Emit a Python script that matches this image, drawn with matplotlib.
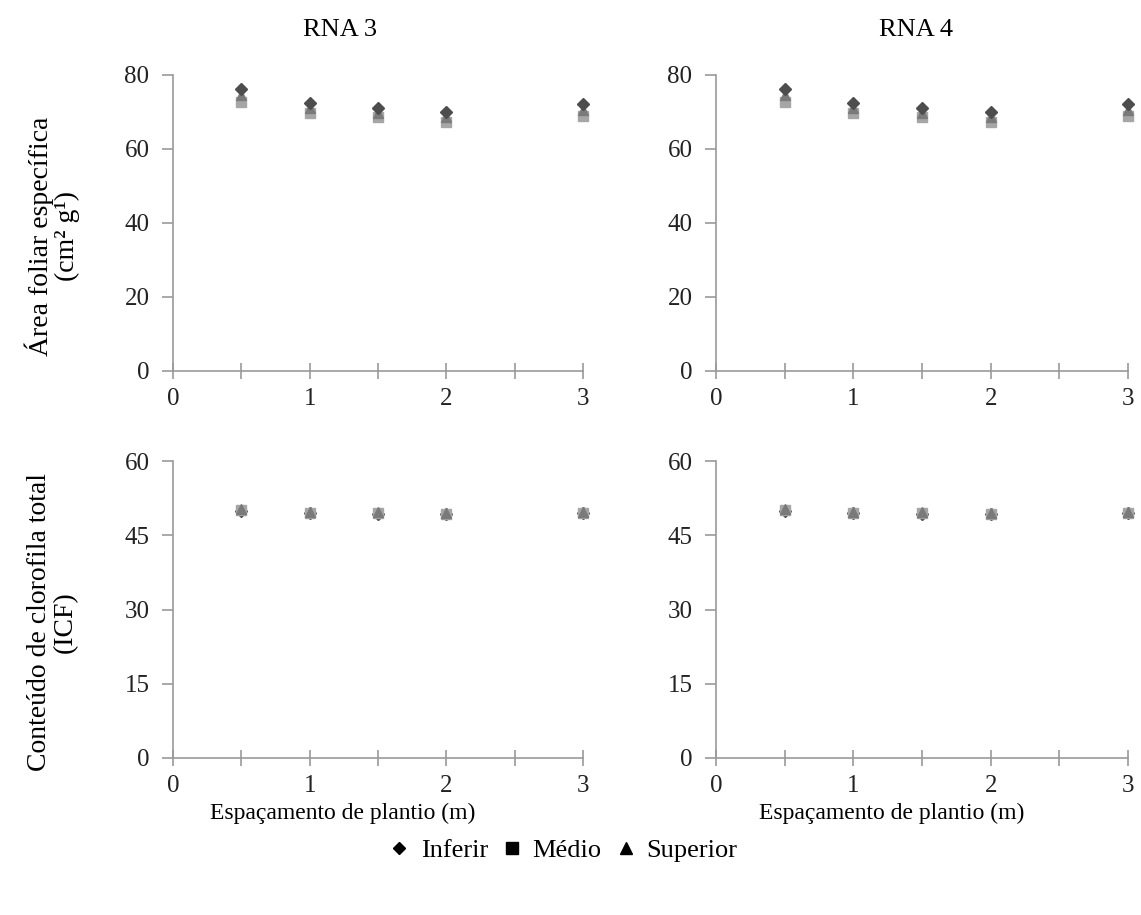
import matplotlib
matplotlib.use("Agg")
import matplotlib.pyplot as plt
from matplotlib.lines import Line2D
from matplotlib.ticker import MultipleLocator

plt.rcParams['font.family'] = ['Liberation Serif', 'DejaVu Serif']

espacamento = [0.5, 1.0, 1.5, 2.0, 3.0]

# Área foliar específica (cm2 g-1)
afe_inferir = [76.2, 72.4, 71.1, 70.0, 72.2]
afe_medio = [72.7, 69.7, 68.6, 67.3, 68.9]
afe_superior = [74.6, 71.0, 69.7, 68.6, 70.5]

# Conteúdo de clorofila total (ICF)
icf_inferir = [50.0, 49.4, 49.3, 49.2, 49.4]
icf_medio = [50.1, 49.5, 49.4, 49.3, 49.5]
icf_superior = [50.3, 49.7, 49.6, 49.5, 49.7]

titles = ["RNA 3", "RNA 4"]
series_names = ["Inferir", "Médio", "Superior"]
colors = {"Inferir": "#4d4d4d", "Médio": "#a6a6a6", "Superior": "#7a7a7a"}
markers = {"Inferir": "D", "Médio": "s", "Superior": "^"}
msize = {"Inferir": 6, "Médio": 7, "Superior": 7.5}

W, H = 1141, 915
fig = plt.figure(figsize=(W / 100, H / 100), dpi=100)

def fx(px):
    return px / W

def fy(py):
    return 1 - py / H

lefts = [173, 716]
rights = [583, 1128]
tops = [(75, 371), (461, 758)]

spine_col = "#9a9a9a"
tick_fs = 18

def style(ax, ymax, ystep):
    ax.set_xlim(0, 3)
    ax.set_ylim(0, ymax)
    for s in ["top", "right"]:
        ax.spines[s].set_visible(False)
    for s in ["left", "bottom"]:
        ax.spines[s].set_color(spine_col)
        ax.spines[s].set_linewidth(1.2)
    ax.xaxis.set_major_locator(MultipleLocator(1))
    ax.xaxis.set_minor_locator(MultipleLocator(0.5))
    ax.yaxis.set_major_locator(MultipleLocator(ystep))
    ax.tick_params(axis="x", which="both", direction="inout", length=12,
                   width=1.2, color=spine_col, labelsize=tick_fs, labelcolor="#222222", pad=6)
    ax.tick_params(axis="y", which="major", direction="out", length=8,
                   width=1.2, color=spine_col, labelsize=tick_fs, labelcolor="#222222", pad=9)

data_top = {"Inferir": afe_inferir, "Médio": afe_medio, "Superior": afe_superior}
data_bot = {"Inferir": icf_inferir, "Médio": icf_medio, "Superior": icf_superior}

for col in range(2):
    t, b = tops[0]
    ax = fig.add_axes([fx(lefts[col]), fy(b), fx(rights[col] - lefts[col]), (b - t) / H])
    for name in ["Médio", "Superior", "Inferir"]:
        ax.plot(espacamento, data_top[name], linestyle="none", marker=markers[name],
                color=colors[name], markersize=msize[name], clip_on=False)
    style(ax, 80, 20)
    t, b = tops[1]
    ax2 = fig.add_axes([fx(lefts[col]), fy(b), fx(rights[col] - lefts[col]), (b - t) / H])
    for name in ["Inferir", "Médio", "Superior"]:
        ax2.plot(espacamento, data_bot[name], linestyle="none", marker=markers[name],
                 color=colors[name], markersize=msize[name], clip_on=False)
    style(ax2, 60, 15)

lab_fs = 17
fig.text(fx(340), fy(30), titles[0], ha="center", va="center", fontsize=19)
fig.text(fx(916), fy(30), titles[1], ha="center", va="center", fontsize=19)

fig.text(fx(52), fy(236), "Área foliar específica\n(cm² g¹)", rotation=90,
         ha="center", va="center", fontsize=20, linespacing=1.05)
fig.text(fx(52), fy(622), "Conteúdo de clorofila total\n(ICF)", rotation=90,
         ha="center", va="center", fontsize=20, linespacing=1.05)

fig.text(fx(343), fy(813), "Espaçamento de plantio (m)", ha="center", va="center", fontsize=lab_fs)
fig.text(fx(892), fy(813), "Espaçamento de plantio (m)", ha="center", va="center", fontsize=lab_fs)

handles = [Line2D([], [], linestyle="none", marker=markers[n], color="black",
                  markersize={"Inferir": 6, "Médio": 9, "Superior": 9}[n]) for n in series_names]
fig.legend(handles, series_names, loc="center", bbox_to_anchor=(fx(562), fy(850)),
           ncol=3, frameon=False, fontsize=19, handletextpad=0.3, columnspacing=0.4,
           handlelength=1.0)

fig.savefig("out.png", dpi=100)
